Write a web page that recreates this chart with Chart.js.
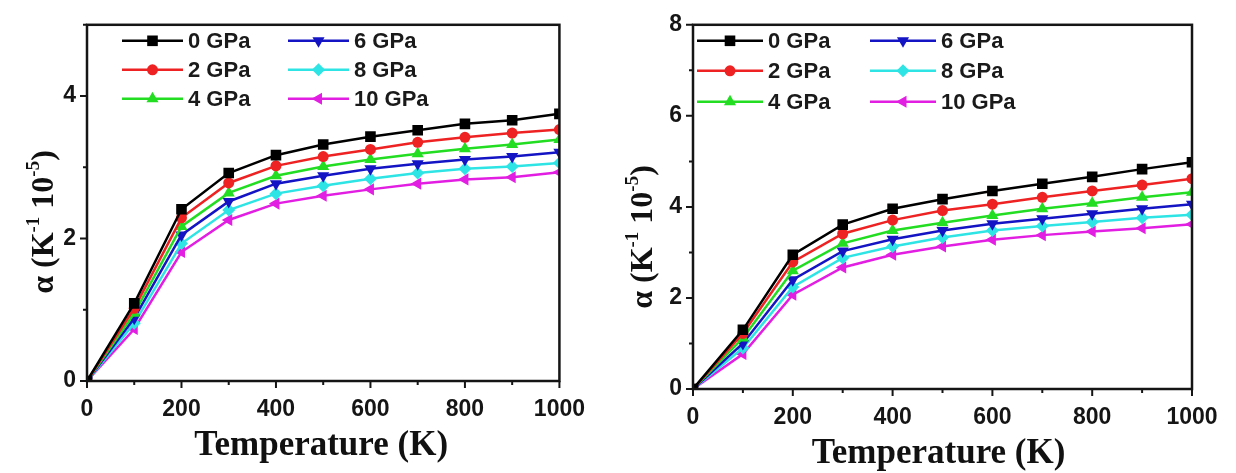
<!DOCTYPE html>
<html>
<head>
<meta charset="utf-8">
<script src="https://cdn.jsdelivr.net/npm/chart.js@4.4.0/dist/chart.umd.min.js"></script>
<style>
  html, body { margin: 0; padding: 0; background: #fff; }
  #wrap { position: relative; width: 1236px; height: 473px; }
  .box { position: absolute; top: 0; height: 473px; }
</style>
</head>
<body>
<div id="wrap">
  <div class="box" style="left:0;width:600px"><canvas id="left"></canvas></div>
  <div class="box" style="left:600px;width:636px"><canvas id="right"></canvas></div>
</div>
<script>
// temperatures (K)
var temps = [0, 100, 200, 300, 400, 500, 600, 700, 800, 900, 1000];
var pressures = ['0 GPa', '2 GPa', '4 GPa', '6 GPa', '8 GPa', '10 GPa'];
var xTicks = [0, 200, 400, 600, 800, 1000];

// left panel, alpha (1e-5 / K)
var left0 = [0, 1.09, 2.41, 2.92, 3.17, 3.32, 3.43, 3.52, 3.61, 3.66, 3.75];
var left2 = [0, 1.02, 2.29, 2.78, 3.02, 3.15, 3.25, 3.35, 3.42, 3.48, 3.53];
var left4 = [0, 0.95, 2.17, 2.64, 2.88, 3.01, 3.11, 3.19, 3.26, 3.32, 3.39];
var left6 = [0, 0.88, 2.05, 2.52, 2.77, 2.88, 2.98, 3.05, 3.11, 3.15, 3.21];
var left8 = [0, 0.81, 1.93, 2.40, 2.63, 2.74, 2.84, 2.92, 2.98, 3.01, 3.06];
var left10 = [0, 0.73, 1.81, 2.26, 2.49, 2.60, 2.69, 2.77, 2.83, 2.86, 2.93];
var leftYTicks = [0, 2, 4];

// right panel
var right0 = [0, 1.30, 2.95, 3.61, 3.96, 4.17, 4.35, 4.51, 4.66, 4.83, 4.98];
var right2 = [0, 1.22, 2.79, 3.41, 3.71, 3.92, 4.06, 4.21, 4.35, 4.48, 4.62];
var right4 = [0, 1.12, 2.60, 3.20, 3.48, 3.65, 3.81, 3.96, 4.08, 4.21, 4.32];
var right6 = [0, 1.00, 2.40, 3.03, 3.29, 3.48, 3.63, 3.74, 3.85, 3.96, 4.06];
var right8 = [0, 0.90, 2.24, 2.88, 3.13, 3.33, 3.48, 3.58, 3.67, 3.76, 3.83];
var right10 = [0, 0.77, 2.07, 2.67, 2.95, 3.13, 3.28, 3.38, 3.46, 3.53, 3.62];
var rightYTicks = [0, 2, 4, 6, 8];

var colors = ['#000000', '#ee2222', '#22dd22', '#1414c4', '#2ee4e4', '#e21ee2'];
var styles = [
  {pointStyle: 'rect', radius: 7.5, rotation: 0},
  {pointStyle: 'circle', radius: 5.5, rotation: 0},
  {pointStyle: 'triangle', radius: 7, rotation: 0},
  {pointStyle: 'triangle', radius: 7, rotation: 180},
  {pointStyle: 'rectRot', radius: 6.5, rotation: 0},
  {pointStyle: 'triangle', radius: 7, rotation: 270}
];

function makeSets(series) {
  return series.map(function (vals, i) {
    return {
      label: pressures[i],
      data: vals.map(function (v, j) { return {x: temps[j], y: v}; }),
      borderColor: colors[i],
      backgroundColor: colors[i],
      borderWidth: 2.5,
      pointStyle: styles[i].pointStyle,
      pointRadius: styles[i].radius,
      pointRotation: styles[i].rotation,
      pointBorderWidth: 0,
      tension: 0
    };
  });
}

function drawMarker(ctx, i, x, y) {
  ctx.fillStyle = colors[i];
  ctx.strokeStyle = colors[i];
  Chart.helpers.drawPoint(ctx, {
    pointStyle: styles[i].pointStyle,
    radius: styles[i].radius,
    rotation: styles[i].rotation,
    borderWidth: 0
  }, x, y);
}

// frame, ticks, titles and the inside legend
var decor = {
  id: 'decor',
  afterDraw: function (chart) {
    var ctx = chart.ctx, a = chart.chartArea, o = chart.options.plugins.decor;
    var xs = chart.scales.x, ys = chart.scales.y;
    ctx.save();
    ctx.strokeStyle = '#151515';
    ctx.lineWidth = 2;
    ctx.beginPath();
    xs.ticks.forEach(function (t) {
      var px = xs.getPixelForValue(t.value);
      var len = xTicks.indexOf(t.value) >= 0 ? 7 : 4;
      ctx.moveTo(px, a.bottom); ctx.lineTo(px, a.bottom + len);
    });
    ys.ticks.forEach(function (t) {
      var py = ys.getPixelForValue(t.value);
      var len = o.yMajor.indexOf(t.value) >= 0 ? 7 : 4;
      ctx.moveTo(a.left, py); ctx.lineTo(a.left - len, py);
    });
    ctx.stroke();
    ctx.lineWidth = 2.5;
    ctx.strokeRect(a.left, a.top, a.right - a.left, a.bottom - a.top);

    // legend
    ctx.font = 'bold 22px "Liberation Sans", Arial, sans-serif';
    ctx.textBaseline = 'middle';
    ctx.textAlign = 'left';
    pressures.forEach(function (p, i) {
      var x0 = a.left + o.cols[Math.floor(i / 3)];
      var y0 = a.top + o.rows[i % 3];
      ctx.strokeStyle = colors[i];
      ctx.lineWidth = 2.5;
      ctx.beginPath();
      ctx.moveTo(x0, y0); ctx.lineTo(x0 + o.lineLen, y0);
      ctx.stroke();
      drawMarker(ctx, i, x0 + o.lineLen / 2, y0);
      ctx.fillStyle = '#1a1a1a';
      ctx.fillText(p, x0 + o.lineLen + 5, y0 + 1);
    });

    // x title
    ctx.fillStyle = '#111';
    ctx.font = 'bold 35px "Liberation Serif", "Times New Roman", serif';
    ctx.textAlign = 'center';
    ctx.textBaseline = 'alphabetic';
    ctx.fillText('Temperature (K)', (a.left + a.right) / 2 + o.xTitleShift, o.xTitleY);

    // y title with superscripts
    var parts = [['α (K', 0], ['-1', 1], [' 10', 0], ['-5', 1], [')', 0]];
    var big = 'bold 32px "Liberation Serif", "Times New Roman", serif';
    var small = 'bold 19px "Liberation Serif", "Times New Roman", serif';
    var total = 0;
    parts.forEach(function (pt) { ctx.font = pt[1] ? small : big; total += ctx.measureText(pt[0]).width; });
    ctx.translate(o.yTitleX, o.yTitleY);
    ctx.rotate(-Math.PI / 2);
    ctx.textAlign = 'left';
    var cx = -total / 2;
    parts.forEach(function (pt) {
      ctx.font = pt[1] ? small : big;
      ctx.fillText(pt[0], cx, pt[1] ? -14 : 0);
      cx += ctx.measureText(pt[0]).width;
    });
    ctx.restore();
  }
};

function makeChart(id, series, yMax, yMajor, geo) {
  return new Chart(document.getElementById(id), {
    type: 'line',
    data: {datasets: makeSets(series)},
    options: {
      responsive: true,
      maintainAspectRatio: false,
      animation: false,
      layout: {padding: {top: geo.top, right: geo.right, left: 0, bottom: 0}},
      plugins: {
        legend: {display: false},
        tooltip: {enabled: false},
        decor: {
          yMajor: yMajor,
          cols: geo.cols, rows: geo.rows, lineLen: geo.lineLen,
          xTitleY: geo.xTitleY, xTitleShift: geo.xTitleShift,
          yTitleX: geo.yTitleX, yTitleY: geo.yTitleY
        }
      },
      scales: {
        x: {
          type: 'linear', min: 0, max: 1000,
          grid: {display: false, drawTicks: false},
          border: {display: false},
          afterFit: function (s) { s.height = geo.xHeight; },
          ticks: {
            stepSize: 100, autoSkip: false, maxRotation: 0, padding: 15,
            color: '#151515',
            font: {family: '"Liberation Sans", Arial, sans-serif', size: 23, weight: 'bold'},
            callback: function (v) { return xTicks.indexOf(v) >= 0 ? v : ''; }
          }
        },
        y: {
          min: 0, max: yMax,
          grid: {display: false, drawTicks: false},
          border: {display: false},
          afterFit: function (s) { s.width = geo.yWidth; },
          ticks: {
            stepSize: 1, autoSkip: false, padding: 11,
            color: '#151515',
            font: {family: '"Liberation Sans", Arial, sans-serif', size: 23, weight: 'bold'},
            callback: function (v) { return yMajor.indexOf(v) >= 0 ? v : ''; }
          }
        }
      }
    },
    plugins: [decor]
  });
}

makeChart('left', [left0, left2, left4, left6, left8, left10], 5, leftYTicks, {
  top: 16, right: 38, yWidth: 87, xHeight: 92,
  cols: [35, 201], rows: [16, 45, 74], lineLen: 61,
  xTitleY: 455, xTitleShift: -2, yTitleX: 53, yTitleY: 222
});
makeChart('right', [right0, right2, right4, right6, right8, right10], 8, rightYTicks, {
  top: 17, right: 44, yWidth: 93, xHeight: 84,
  cols: [4, 177], rows: [16, 46, 77], lineLen: 66,
  xTitleY: 463, xTitleShift: -4, yTitleX: 52, yTitleY: 237
});
</script>
</body>
</html>
